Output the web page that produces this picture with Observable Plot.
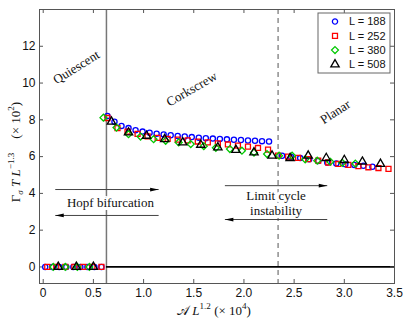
<!DOCTYPE html>
<html><head><meta charset="utf-8">
<script src="https://cdn.jsdelivr.net/npm/d3@7"></script>
<script src="https://cdn.jsdelivr.net/npm/@observablehq/plot@0.6"></script>
<style>body{margin:0;background:#fff} svg{display:block}</style>
</head><body><div id="chart"></div>
<script>
// ---------- data ----------
const xTicks = [0, 0.5, 1, 1.5, 2, 2.5, 3, 3.5];
const yTicks = [0, 2, 4, 6, 8, 10, 12];
const seriesLabels = ["L = 188", "L = 252", "L = 380", "L = 508"];
const seriesColors = ["#0000ff", "#ff0000", "#00c800", "#000000"];
const seriesSymbols = ["circle", "square", "diamond2", "triangle"];

// quiescent points (value 0)
const q188 = [0.02, 0.09, 0.16, 0.23, 0.30, 0.37, 0.44, 0.51, 0.58];
const q252 = [0.04, 0.13, 0.22, 0.31, 0.40, 0.49, 0.58];
const q380 = [0.10, 0.22, 0.34, 0.46];
const q508 = [0.15, 0.33, 0.50];

// oscillating points
const a188x = [0.64,0.71,0.78,0.85,0.92,0.99,1.06,1.13,1.20,1.27,1.34,1.41,1.48,1.55,1.62,1.69,1.76,1.83,1.90,1.97,2.04,2.11,2.18,2.25,
               2.38,2.47,2.56,2.65,2.74,2.83,2.92,3.01,3.10,3.19,3.28];
const a188y = [8.21,7.90,7.67,7.55,7.44,7.36,7.30,7.25,7.20,7.16,7.12,7.09,7.06,7.03,7.00,6.98,6.96,6.94,6.92,6.90,6.88,6.86,6.84,6.82,
               6.05,5.98,5.92,5.85,5.76,5.68,5.63,5.58,5.55,5.50,5.45];
const a252x = [0.64,0.74,0.84,0.94,1.04,1.14,1.24,1.34,1.44,1.54,1.64,1.74,1.84,1.94,2.04,2.14,2.24,
               2.34,2.44,2.54,2.64,2.74,2.84,2.94,3.04,3.14,3.24,3.34,3.44];
const a252y = [8.10,7.55,7.36,7.24,7.10,7.02,6.96,6.92,6.88,6.82,6.77,6.72,6.66,6.60,6.54,6.47,6.38,
               6.05,6.00,5.93,5.86,5.78,5.68,5.60,5.55,5.48,5.42,5.38,5.33];
const a380x = [0.60,0.73,0.85,0.97,1.10,1.22,1.35,1.47,1.60,1.72,1.86,1.98,2.10,2.23,2.35,2.48,2.61,2.73,2.86,2.98,3.11];
const a380y = [8.12,7.58,7.22,7.09,6.95,6.86,6.77,6.68,6.57,6.48,6.41,6.32,6.22,6.14,6.05,6.05,5.85,5.78,5.72,5.66,5.62];
const a508x = [0.68,0.85,1.03,1.21,1.39,1.57,1.74,1.92,2.10,2.28,2.46,2.64,2.82,3.00,3.18,3.36];
const a508y = [7.90,7.31,7.13,6.95,6.77,6.64,6.50,6.36,6.23,6.05,5.92,6.05,5.92,5.81,5.72,5.60];

const hopfX = 0.63;     // Hopf bifurcation boundary
const limitX = 2.34;    // limit cycle instability boundary
const xMax = 3.5;

const regionLabels = [
  {name: "Quiescent", x: 0.33, y: 10.86, angle: -32},
  {name: "Corkscrew", x: 1.48, y: 9.67, angle: -30},
  {name: "Planar", x: 2.91, y: 8.43, angle: -33}
];
const boundaryLabels = [
  {name: "Hopf bifurcation", x: 0.67, y: 3.5},
  {name: "Limit cycle\ninstability", x: 2.32, y: 3.48}
];
const arrows = [
  {x1: 0.12, x2: 1.15, y: 4.21},
  {x1: 1.15, x2: 0.12, y: 2.80},
  {x1: 1.81, x2: 2.83, y: 4.42},
  {x1: 2.83, x2: 1.81, y: 2.58}
];

// ---------- build ----------
const qs = [q188, q252, q380, q508];
const axs = [a188x, a252x, a380x, a508x];
const ays = [a188y, a252y, a380y, a508y];
const seriesData = seriesLabels.map((lab, i) => [
  ...qs[i].map(x => ({x, y: 0})),
  ...axs[i].map((x, j) => ({x, y: ays[i][j]}))
]);
const sizes = [2.6, 2.8, 3.1, 3.1];

const W = 407, H = 323, mL = 39, mR = 13, mT = 9, mB = 40;
const innerW = W - mL - mR, innerH = H - mT - mB;
const serif = "Liberation Serif, DejaVu Serif, serif";
const frameCol = "#555";

const headRight = {draw(ctx, size) {
  const l = Math.sqrt(size);
  ctx.moveTo(0, 0); ctx.lineTo(-l, -l * 0.22); ctx.lineTo(-l, l * 0.22); ctx.closePath();
}};

const marks = [
  Plot.ruleX([hopfX], {stroke: "#777", strokeWidth: 1.5}),
  Plot.ruleX([limitX], {stroke: "#555", strokeWidth: 1, strokeDasharray: "5,4"}),
  Plot.ruleY([0], {x1: hopfX, x2: xMax, stroke: "#000", strokeWidth: 1.8}),
  Plot.frame({stroke: frameCol}),
  Plot.tickX(xTicks, {x: d => d, insetTop: innerH - 4, stroke: frameCol}),
  Plot.tickX(xTicks, {x: d => d, insetBottom: innerH - 4, stroke: frameCol}),
  Plot.tickY(yTicks, {y: d => d, insetRight: innerW - 4, stroke: frameCol}),
  Plot.tickY(yTicks, {y: d => d, insetLeft: innerW - 4, stroke: frameCol}),
  Plot.axisX({ticks: xTicks, tickSize: 0, tickPadding: 5, label: null,
    tickFormat: d => d === 0 ? "0" : d.toFixed(1)}),
  Plot.axisY({ticks: yTicks, tickSize: 0, tickPadding: 4, label: null}),
  Plot.text(regionLabels, {x: "x", y: "y", text: "name", rotate: d => d.angle,
    fontFamily: serif, fontSize: 13, fill: "#111"}),
  Plot.text(boundaryLabels, {x: "x", y: "y", text: "name", fontFamily: serif, fontSize: 13,
    lineHeight: 1.15, fill: "#111", stroke: "white", strokeWidth: 6, paintOrder: "stroke"}),
  Plot.link(arrows, {x1: "x1", x2: "x2", y1: "y", y2: "y", stroke: "#444", strokeWidth: 1}),
  Plot.dot(arrows, {x: "x2", y: "y", symbol: headRight, rotate: d => d.x2 > d.x1 ? 0 : 180,
    r: 4.8, fill: "#000", stroke: "none"}),
  ...seriesData.map((data, i) => Plot.dot(data, {x: "x", y: "y", symbol: seriesSymbols[i],
    r: sizes[i], stroke: seriesColors[i], strokeWidth: 1.3, fill: "none"}))
];

const svg = Plot.plot({
  width: W, height: H,
  marginLeft: mL, marginRight: mR, marginTop: mT, marginBottom: mB,
  x: {domain: [-0.037, xMax]},
  y: {domain: [-0.9, 14]},
  style: {fontFamily: "Liberation Sans, Arial, sans-serif", fontSize: "12px", color: "#111", background: "white"},
  marks
});
document.getElementById("chart").appendChild(svg);

// ---------- legend & axis labels ----------
const s = d3.select(svg);
const lg = s.append("g");
lg.append("rect").attr("x", 318).attr("y", 13).attr("width", 72).attr("height", 60)
  .attr("fill", "white").attr("stroke", "#666");
const d3sym = {circle: d3.symbolCircle, square: d3.symbolSquare, diamond2: d3.symbolDiamond2, triangle: d3.symbolTriangle};
seriesLabels.forEach((lab, i) => {
  const y = 21.5 + i * 14.3;
  lg.append("path").attr("d", d3.symbol(d3sym[seriesSymbols[i]], Math.PI * sizes[i] * sizes[i])())
    .attr("transform", `translate(335,${y})`).attr("fill", "none")
    .attr("stroke", seriesColors[i]).attr("stroke-width", 1.3);
  lg.append("text").attr("x", 349).attr("y", y).attr("dy", "0.36em")
    .attr("text-anchor", "start")
    .attr("font-family", "Liberation Sans, Arial, sans-serif").attr("font-size", 11)
    .attr("fill", "#111").text(lab);
});

function rich(x, y, rot, parts, size) {
  const t = s.append("text").attr("transform", `translate(${x},${y}) rotate(${rot})`)
    .attr("text-anchor", "middle").attr("font-family", serif).attr("font-size", size).attr("fill", "#111");
  let cur = 0;
  parts.forEach(p => {
    const shift = p.sup ? -size * 0.45 : p.sub ? size * 0.25 : 0;
    const ts = t.append("tspan").attr("dy", shift - cur).text(p.t);
    if (p.sup || p.sub) ts.attr("font-size", size * 0.7);
    if (p.it) ts.attr("font-style", "italic");
    if (p.dx) ts.attr("dx", p.dx);
    cur = shift;
  });
}
rich(20, 152, -90, [
  {t: "Γ"}, {t: "σ", sub: true, it: true}, {t: "\u00a0"}, {t: "T", it: true}, {t: "\u00a0"},
  {t: "L", it: true}, {t: "−1.3", sup: true}, {t: "(× 10", dx: 14}, {t: "2", sup: true}, {t: ")"}
], 13);
rich(214, 315, 0, [
  {t: "𝒜"}, {t: "\u00a0"}, {t: "L", it: true}, {t: "1.2", sup: true},
  {t: "\u00a0(× 10"}, {t: "4", sup: true}, {t: ")"}
], 13);
</script>
</body></html>
